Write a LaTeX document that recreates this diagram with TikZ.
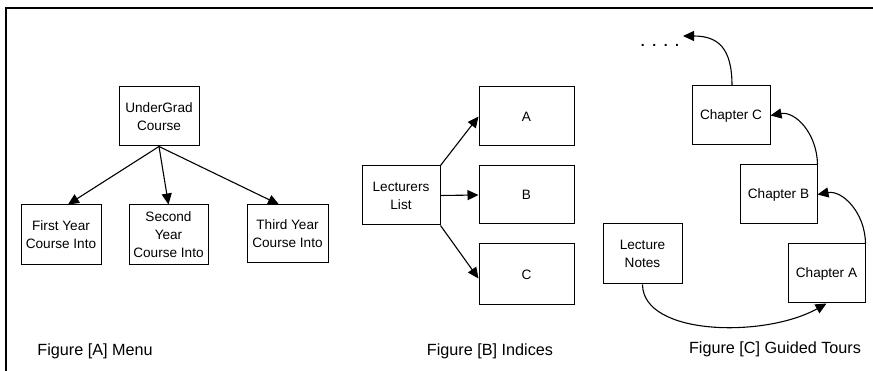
\documentclass[tikz,border=0pt]{standalone}
\usepackage{fontspec}
\setmainfont{Liberation Sans}
\usetikzlibrary{arrows.meta}
\begin{document}
\begin{tikzpicture}[x=1pt,y=-1pt,
  box/.style={draw,line width=1pt,minimum width=#1,align=center,
    font=\fontsize{13.6}{18}\selectfont,inner sep=0pt},
  box/.default=79pt,
  link/.style={line width=1.1pt,-{Triangle[length=11pt,width=10pt]}},
  caption/.style={font=\fontsize{16.2}{18}\selectfont}]
\useasboundingbox (0,0) rectangle (873,371);
% outer frame (left and top edges)
\draw[line width=1.5pt] (6,371) -- (6,8) -- (873,8);

% Figure A: menu
\node[box=80pt,minimum height=59pt] (ug) at (159,116.5) {UnderGrad\\Course};
\node[box=80pt,minimum height=60pt] (fy) at (61,235) {First Year\\Course Into};
\node[box=79pt,minimum height=60pt] (sy) at (168.5,235) {Second\\Year\\Course Into};
\node[box=81pt,minimum height=58pt] (ty) at (287.5,234) {Third Year\\Course Into};
\draw[link] (ug.south) -- ([xshift=7pt]fy.north);
\draw[link] (ug.south) -- (sy.north);
\draw[link] (ug.south) -- ([xshift=-8.5pt]ty.north);

% Figure B: indices
\node[box=78pt,minimum height=59pt] (ll) at (401,195.5) {Lecturers\\List};
\node[box=95pt,minimum height=59pt] (a) at (526.5,116.5) {A};
\node[box=95pt,minimum height=58pt] (b) at (526.5,195) {B};
\node[box=95pt,minimum height=61pt] (c) at (526.5,274.5) {C};
\draw[link] (ll.north east) -- (a.west);
\draw[link] (ll.east) -- (b.west);
\draw[link] (ll.south east) -- ([yshift=-4pt]c.west);

% Figure C: guided tours
\node[box=78pt,minimum height=59pt] (cc) at (731,115.5) {Chapter C};
\node[box=77pt,minimum height=59pt] (cb) at (778.5,194.5) {Chapter B};
\node[box=77pt,minimum height=59pt] (ca) at (826.5,273.5) {Chapter A};
\node[box=79pt,minimum height=60pt] (ln) at (642.5,254) {Lecture\\Notes};
\node[font=\bfseries\fontsize{14}{14}\selectfont] (dots) at (660,45)
  {.\hspace{7.5pt}.\hspace{7.5pt}.\hspace{7.5pt}.};
\coordinate (more) at (683,36);
\draw[link] (ln.south) .. controls (643,336) and (765,338) .. (ca.south);
\draw[link] (ca.north east) .. controls (865,212) and (842,190) .. (cb.east);
\draw[link] (cb.north east) .. controls (817,133) and (795,111) .. (cc.east);
\draw[link] ([xshift=1pt]cc.north) .. controls (732,48) and (718,36) .. (more);

% captions
\node[caption] (capA) at (95,351) {Figure [A] Menu};
\node[caption] (capB) at (490,351) {Figure [B] Indices};
\node[caption] (capC) at (775,349) {Figure [C] Guided Tours};
\end{tikzpicture}
\end{document}
